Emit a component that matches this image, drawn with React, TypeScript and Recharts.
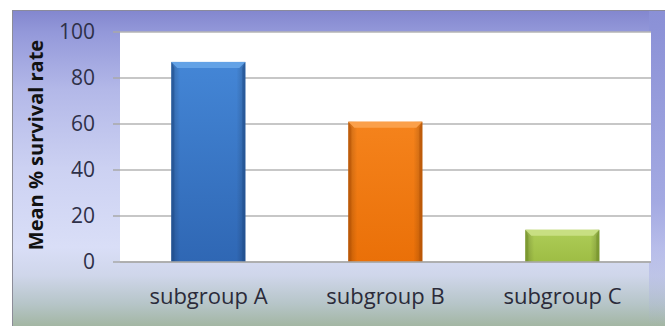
import { Bar, BarChart, CartesianGrid, Cell, XAxis, YAxis } from "recharts"

// Survival rate per subgroup
const groups = ["subgroup A", "subgroup B", "subgroup C"]
const survival = [87, 61, 14]
const yTicks = [0, 20, 40, 60, 80, 100]

// top / bottom / edge / bevel colour per bar
const palette = [
  { id: "blue", top: "#4486d6", bottom: "#2f67b4", dark: "#21508f", light: "#63a2e6" },
  { id: "orange", top: "#f5831c", bottom: "#ea7008", dark: "#b85405", light: "#fba04a" },
  { id: "green", top: "#aecd58", bottom: "#9ebd44", dark: "#75942a", light: "#c8df82" },
]

const data = groups.map((name, i) => ({ name, value: survival[i], color: i }))

const textFont = "'Open Sans', 'Noto Sans', sans-serif"

function BevelBar(props: any) {
  const { x, y, width, height, payload } = props
  if (!height || height <= 0) return null
  const c = palette[payload.color]
  const b = Math.min(6, height / 2)
  return (
    <g>
      <rect x={x} y={y} width={width} height={height} fill={`url(#v-${c.id})`} />
      <rect x={x} y={y} width={width} height={height} fill="url(#edges)" />
      <polygon
        points={`${x},${y} ${x + width},${y} ${x + width - b},${y + b} ${x + b},${y + b}`}
        fill={c.light}
      />
      <polygon
        points={`${x},${y} ${x + b * 0.5},${y + b} ${x + b * 0.5},${y + height} ${x},${y + height}`}
        fill={c.dark}
        opacity={0.6}
      />
      <polygon
        points={`${x + width},${y} ${x + width - b * 0.5},${y + b} ${x + width - b * 0.5},${y + height} ${x + width},${y + height}`}
        fill={c.dark}
        opacity={0.6}
      />
    </g>
  )
}

function YTitle(props: any) {
  const { viewBox } = props
  const cx = 23
  const cy = viewBox.y + viewBox.height / 2 - 2
  return (
    <text
      x={cx}
      y={cy}
      transform={`rotate(-90 ${cx} ${cy})`}
      textAnchor="middle"
      dominantBaseline="central"
      fontFamily={textFont}
      fontWeight={700}
      fontSize={20}
      fill="#111"
    >
      Mean % survival rate
    </text>
  )
}

export default function App() {
  return (
    <div style={{ position: "relative", width: 665, height: 326 }}>
      <style>{`body { margin: 0; }`}</style>
      <div
        style={{
          position: "absolute",
          left: 12,
          top: 10,
          width: 653,
          height: 316,
          borderTop: "1px solid #8a8a9c",
          borderLeft: "1px solid #8c8c98",
          boxSizing: "border-box",
          background:
            "linear-gradient(to bottom, #8387cf 0%, #9499da 7%, #b3b8e8 25%, #ccd1f2 50%, #d9def7 75%, #cfd6ea 84%, #b6c5c8 93%, #a3b6a3 100%)",
        }}
      >
        <div
          style={{
            position: "absolute",
            right: 0,
            top: 0,
            width: 16,
            height: "100%",
            background: "linear-gradient(to bottom, #8a90d6, #a3a9e2 60%, rgba(190,198,235,0) 100%)",
          }}
        />
        <BarChart
          width={653}
          height={316}
          data={data}
          margin={{ top: 22, right: 14, bottom: 0, left: 0 }}
          barCategoryGap="29%"
          style={{ position: "absolute", left: -1, top: -1 }}
        >
          <defs>
            {palette.map((c) => (
              <linearGradient key={c.id} id={`v-${c.id}`} x1="0" y1="0" x2="0" y2="1">
                <stop offset="0%" stopColor={c.top} />
                <stop offset="100%" stopColor={c.bottom} />
              </linearGradient>
            ))}
            <linearGradient id="edges" x1="0" y1="0" x2="1" y2="0">
              <stop offset="0%" stopColor="#000" stopOpacity={0.2} />
              <stop offset="12%" stopColor="#000" stopOpacity={0} />
              <stop offset="88%" stopColor="#000" stopOpacity={0} />
              <stop offset="100%" stopColor="#000" stopOpacity={0.2} />
            </linearGradient>
          </defs>
          <CartesianGrid vertical={false} fill="#ffffff" stroke="#b4b4b4" strokeWidth={1.5} />
          <XAxis
            dataKey="name"
            axisLine={{ stroke: "#a8a8a8", strokeWidth: 1.5 }}
            tickLine={false}
            tickSize={0}
            tickMargin={26}
            height={64}
            tick={{ fill: "#2b2b3a", fontSize: 22, fontFamily: textFont }}
          />
          <YAxis
            domain={[0, 100]}
            ticks={yTicks}
            width={108}
            axisLine={false}
            tickLine={{ stroke: "#a8a8a8", strokeWidth: 1.5 }}
            tickSize={7}
            tickMargin={18}
            tick={{ fill: "#2e3048", fontSize: 21, fontFamily: textFont }}
            label={<YTitle />}
          />
          <Bar dataKey="value" shape={<BevelBar />} isAnimationActive={false}>
            {data.map((d) => (
              <Cell key={d.name} />
            ))}
          </Bar>
        </BarChart>
      </div>
    </div>
  )
}
